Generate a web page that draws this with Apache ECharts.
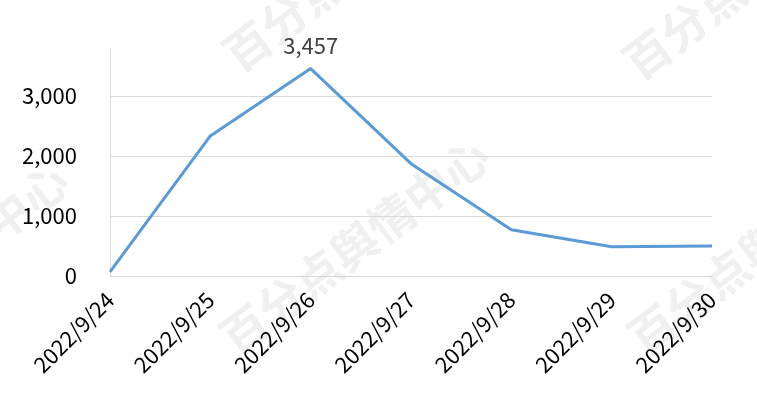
<!DOCTYPE html>
<html><head><meta charset="utf-8">
<script src="https://cdn.jsdelivr.net/npm/echarts@6/dist/echarts.min.js"></script>
<style>html,body{margin:0;padding:0;background:#fff}#c{width:757px;height:397px}</style>
</head><body><div id="c"></div>
<script>
const categories = ['2022/9/24','2022/9/25','2022/9/26','2022/9/27','2022/9/28','2022/9/29','2022/9/30'];
const values = [70, 2335, 3457, 1872, 770, 488, 498];
const peakLabelIndex = 2;
const watermarkText = '百分点舆情中心';

const chart = echarts.init(document.getElementById('c'), null, {renderer:'canvas'});
const font = '"Noto Sans CJK SC","Noto Sans",sans-serif';
const wmPos = [[226,343],[229,60],[629,68],[634,343],[-195,368],[-174,63]];
const rot = 37*Math.PI/180;
chart.setOption({
  animation:false,
  backgroundColor:'#fff',
  graphic: wmPos.map(p=>({type:'text', x:p[0], y:p[1], rotation:rot, z:-10, silent:true,
    style:{text:watermarkText, fill:'#f0f0f0', font:'bold 46px '+font, textAlign:'left', textVerticalAlign:'middle'}})),
  grid:{left:110, right:45, top:48, bottom:121, containLabel:false},
  xAxis:{type:'category', data:categories, boundaryGap:false,
    axisLine:{show:true, lineStyle:{color:'#d9d9d9', width:1}},
    axisTick:{show:false},
    axisLabel:{rotate:45, margin:20, fontSize:22, color:'#000', fontFamily:font, interval:0, padding:[0,0,0,0]}},
  yAxis:{type:'value', min:0, max:3800, interval:1000,
    axisLine:{show:true, lineStyle:{color:'#d9d9d9', width:1}},
    axisTick:{show:false},
    splitLine:{show:true, showMaxLine:false, lineStyle:{color:'#d9d9d9', width:1}},
    axisLabel:{showMaxLabel:false, margin:33, fontSize:22, color:'#000', fontFamily:font,
      formatter:v=>v.toLocaleString('en-US')}},
  series:[{type:'line', data:values.map((v,i)=>i===peakLabelIndex?{value:v,label:{show:true}}:v),
    symbol:'circle', symbolSize:0, showSymbol:true, lineStyle:{color:'#5b9bd5', width:3}, itemStyle:{color:'#5b9bd5'},
    label:{show:false, position:'top', distance:12, fontSize:22, color:'#404040', fontFamily:font,
      formatter:p=>p.value.toLocaleString('en-US')}}]
});
</script></body></html>
